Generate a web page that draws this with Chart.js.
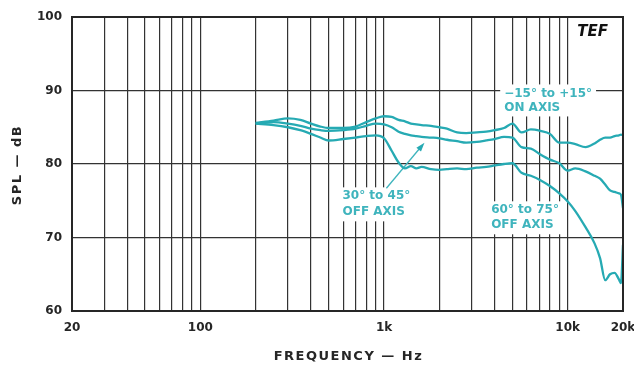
<!DOCTYPE html>
<html>
<head>
<meta charset="utf-8">
<title>SPL vs Frequency</title>
<script src="https://cdn.jsdelivr.net/npm/chart.js@4/dist/chart.umd.min.js"></script>
<style>
  html, body { margin: 0; padding: 0; background: #fff; }
  #wrap { width: 634px; height: 366px; }
</style>
</head>
<body>
<div id="wrap"><canvas id="spl" width="634" height="366"></canvas></div>
<script>
// Measurement frequencies (Hz)
const freqs = [200, 250, 300, 350, 400, 450, 500, 600, 700, 800, 900, 1000, 1100, 1200, 1300, 1400, 1500, 1600, 1800, 2000,
  2200, 2500, 2800, 3200, 3600, 4000, 4500, 5000, 5600, 6300, 7100, 8000, 9000, 10000, 11000, 12500, 14000, 15000,
  16000, 17000, 18000, 19000, 19500, 20000];

// SPL (dB), -15° to +15°, on axis
const onAxis = [85.6, 85.9, 86.2, 86.0, 85.5, 85.1, 84.9, 84.9, 85.1, 85.7, 86.2, 86.5, 86.4, 86.0, 85.8, 85.5, 85.4, 85.3, 85.2, 85.0,
  84.8, 84.3, 84.2, 84.3, 84.4, 84.6, 84.9, 85.5, 84.3, 84.7, 84.5, 84.1, 82.9, 82.9, 82.7, 82.3, 82.8, 83.3,
  83.6, 83.6, 83.8, 83.9, 84.0, 83.9];

// SPL (dB), 30° to 45° off axis
const offAxis30 = [85.5, 85.7, 85.5, 85.2, 84.8, 84.6, 84.5, 84.6, 84.8, 85.2, 85.5, 85.4, 85.0, 84.4, 84.1, 83.9, 83.8, 83.7, 83.6, 83.5,
  83.3, 83.1, 82.9, 83.0, 83.2, 83.4, 83.7, 83.6, 82.3, 82.1, 81.3, 80.6, 80.1, 79.1, 79.4, 79.0, 78.4, 78.0,
  77.2, 76.4, 76.2, 76.0, 75.8, 74.0];

// SPL (dB), 60° to 75° off axis
const offAxis60 = [85.5, 85.3, 85.0, 84.6, 84.1, 83.6, 83.2, 83.4, 83.6, 83.8, 83.9, 83.5, 81.8, 80.2, 79.4, 79.7, 79.4, 79.6, 79.3, 79.2,
  79.3, 79.4, 79.3, 79.5, 79.6, 79.8, 80.0, 80.1, 78.8, 78.4, 77.8, 77.0, 76.0, 74.9, 73.6, 71.4, 69.2, 67.2,
  64.2, 65.0, 65.2, 64.3, 63.8, 69.0];

// Frequency grid lines and the ones that carry a label
const gridFreqs = [20, 30, 40, 50, 60, 70, 80, 90, 100, 200, 300, 400, 500, 600, 700, 800, 900, 1000,
  2000, 3000, 4000, 5000, 6000, 7000, 8000, 9000, 10000, 20000];
const freqLabels = { 20: '20', 100: '100', 1000: '1k', 10000: '10k', 20000: '20k' };
const splTicks = [60, 70, 80, 90, 100];

const TEAL = '#26aab3';
const LABEL_TEAL = '#3fb4bd';
const INK = '#262626';

// Callout labels, anchored in data units (left edge, first line centre)
const callouts = [
  { lines: ['\u221215\u00b0 to +15\u00b0', 'ON AXIS'], freq: 4510, db: 89.6, gap: 14 },
  { lines: ['30\u00b0 to 45\u00b0', 'OFF AXIS'], freq: 594, db: 75.6, gap: 16 },
  { lines: ['60\u00b0 to 75\u00b0', 'OFF AXIS'], freq: 3830, db: 73.7, gap: 15 }
];
// Arrow from the 30°–45° callout to its curve
const arrow = { from: { freq: 1030, db: 76.7 }, to: { freq: 1660, db: 82.9 } };

const series = (vals) => freqs.map((f, i) => ({ x: f, y: vals[i] }));

const calloutPlugin = {
  id: 'callouts',
  beforeDatasetsDraw(chart) {
    const { ctx, scales: { x, y } } = chart;
    ctx.save();
    ctx.font = 'bold 12px "DejaVu Sans"';
    ctx.textBaseline = 'middle';
    ctx.textAlign = 'left';
    callouts.forEach(c => {
      const left = x.getPixelForValue(c.freq);
      const top = y.getPixelForValue(c.db);
      const w = Math.max(...c.lines.map(t => ctx.measureText(t).width));
      const h = c.gap * (c.lines.length - 1);
      ctx.fillStyle = '#fff';
      ctx.fillRect(left - 4, top - 9, w + 8, h + 18);
      ctx.fillStyle = LABEL_TEAL;
      c.lines.forEach((t, i) => ctx.fillText(t, left, top + i * c.gap));
    });
    // arrow
    const x0 = x.getPixelForValue(arrow.from.freq), y0 = y.getPixelForValue(arrow.from.db);
    const x1 = x.getPixelForValue(arrow.to.freq), y1 = y.getPixelForValue(arrow.to.db);
    const ang = Math.atan2(y1 - y0, x1 - x0);
    ctx.strokeStyle = LABEL_TEAL;
    ctx.fillStyle = TEAL;
    ctx.lineWidth = 1.3;
    ctx.beginPath();
    ctx.moveTo(x0, y0);
    ctx.lineTo(x1 - 5 * Math.cos(ang), y1 - 5 * Math.sin(ang));
    ctx.stroke();
    ctx.beginPath();
    ctx.moveTo(x1, y1);
    ctx.lineTo(x1 - 9 * Math.cos(ang) + 3 * Math.sin(ang), y1 - 9 * Math.sin(ang) - 3 * Math.cos(ang));
    ctx.lineTo(x1 - 9 * Math.cos(ang) - 3 * Math.sin(ang), y1 - 9 * Math.sin(ang) + 3 * Math.cos(ang));
    ctx.closePath();
    ctx.fill();
    ctx.restore();
  },
  afterDraw(chart) {
    const { ctx, chartArea: a } = chart;
    ctx.save();
    // plot frame
    ctx.strokeStyle = INK;
    ctx.lineWidth = 2;
    ctx.strokeRect(a.left, a.top, a.right - a.left, a.bottom - a.top);
    // logo
    ctx.fillStyle = '#111';
    ctx.font = 'italic bold 15px "DejaVu Sans"';
    ctx.textAlign = 'right';
    ctx.textBaseline = 'middle';
    ctx.fillText('TEF', a.right - 15, a.top + 15);
    // axis titles
    ctx.fillStyle = INK;
    ctx.font = 'bold 13px "DejaVu Sans"';
    ctx.letterSpacing = '1.5px';
    ctx.textAlign = 'center';
    ctx.fillText('FREQUENCY \u2014 Hz', (a.left + a.right) / 2 + 1, 357);
    ctx.translate(18, (a.top + a.bottom) / 2 + 1);
    ctx.rotate(-Math.PI / 2);
    ctx.fillText('SPL \u2014 dB', 0, 0);
    ctx.restore();
  }
};

new Chart(document.getElementById('spl'), {
  type: 'line',
  data: {
    datasets: [
      { label: '-15 to +15 on axis', data: series(onAxis) },
      { label: '30 to 45 off axis', data: series(offAxis30) },
      { label: '60 to 75 off axis', data: series(offAxis60) }
    ].map(d => Object.assign(d, {
      borderColor: TEAL, borderWidth: 2.3, pointRadius: 0, cubicInterpolationMode: 'monotone', fill: false
    }))
  },
  options: {
    responsive: false,
    animation: false,
    layout: { padding: { top: 17, right: 11, left: 0, bottom: 0 } },
    plugins: { legend: { display: false }, tooltip: { enabled: false } },
    scales: {
      x: {
        type: 'logarithmic',
        min: 20, max: 20000,
        afterBuildTicks: (s) => { s.ticks = gridFreqs.map(v => ({ value: v })); },
        afterFit: (s) => { s.height = 55; s.paddingLeft = 0; s.paddingRight = 0; },
        grid: { color: '#333', lineWidth: 1.2, drawTicks: false },
        border: { display: false },
        ticks: {
          autoSkip: false, maxRotation: 0, padding: 10,
          color: INK, font: { family: 'DejaVu Sans', weight: 'bold', size: 12 },
          callback: (v) => freqLabels[v] || ''
        }
      },
      y: {
        min: 60, max: 100,
        afterBuildTicks: (s) => { s.ticks = splTicks.map(v => ({ value: v })); },
        afterFit: (s) => { s.width = 72; s.paddingTop = 0; s.paddingBottom = 0; },
        grid: { color: '#333', lineWidth: 1.2, drawTicks: false },
        border: { display: false },
        ticks: {
          padding: 10, color: INK,
          font: { family: 'DejaVu Sans', weight: 'bold', size: 12 }
        }
      }
    }
  },
  plugins: [calloutPlugin]
});
</script>
</body>
</html>
